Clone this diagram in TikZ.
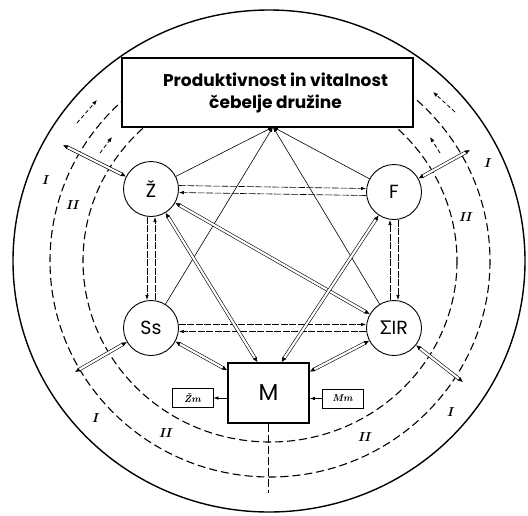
\documentclass[tikz,border=0pt]{standalone}
\usepackage{fontspec}
\newfontfamily\pop{Poppins}
\newfontfamily\grk{Lato}
\usetikzlibrary{arrows.meta,calc}
\begin{document}
\begin{tikzpicture}[x=1pt,y=-1pt,
  ring/.style={line width=1.1pt, dash pattern=on 8pt off 4pt},
  nd/.style={circle, draw, line width=0.9pt, minimum size=55pt, inner sep=0pt, fill=white, font=\pop\fontsize{19}{19}\selectfont},
  pair/.style={line width=0.6pt, dash pattern=on 7pt off 1.5pt, -{Latex[length=5pt,width=3.5pt]}},
  dbl/.style={double distance=2.2pt, line width=0.6pt, {Latex[length=5pt,width=4.5pt]}-{Latex[length=5pt,width=4.5pt]}},
  thinl/.style={line width=0.6pt, -{Latex[length=5pt,width=3.5pt]}},
  flow/.style={line width=0.8pt, dash pattern=on 4pt off 2.5pt, -{Latex[length=5pt,width=4pt]}},
  lane/.style={font=\fontsize{13}{13}\selectfont\bfseries\itshape},
  sbox/.style={draw, line width=0.8pt, minimum width=41pt, minimum height=19pt, inner sep=1pt, font=\fontsize{10}{10}\selectfont\bfseries\itshape}
]
\useasboundingbox (0,0) rectangle (528,515);
% rings
\begin{scope}
\clip (-10,-10) -- (122,-10) -- (122,127) -- (413,127) -- (413,-10) -- (540,-10) -- (540,530) -- (-10,530) -- cycle;
\draw[ring] (270,261) ellipse [x radius=220, y radius=216];
\draw[ring] (270,261) ellipse [x radius=187, y radius=181];
\end{scope}
\draw[line width=1.4pt] (269,261) ellipse [x radius=256, y radius=251];
% nodes
\node[draw, line width=1.4pt, fill=white, minimum width=291pt, minimum height=69pt, align=center,
  font=\pop\bfseries\fontsize{17}{22}\selectfont] (prod) at (267.5,92.5) {\hspace*{16pt}Produktivnost in vitalnost\\\hspace*{16pt}čebelje družine};
\node[nd] (Z) at (151,189) {Ž};
\node[nd] (F) at (394,192) {F};
\node[nd] (Ss) at (151,328) {Ss};
\node[nd] (SIR) at (394,328) {{\grk Σ}IR};
\node[draw, line width=1.6pt, minimum width=81pt, minimum height=60pt, fill=white, font=\pop\fontsize{23}{23}\selectfont] (M) at (268.5,393) {M};
\node[sbox] (zm) at (192.5,398) {Žm};
\node[sbox] (mm) at (342.5,398.5) {Mm};
% coordinates
\coordinate (apex) at (273,127);
\coordinate (zo) at (63,145);
\coordinate (fo) at (470,150);
\coordinate (so) at (75,372);
\coordinate (ro) at (463,382);
\coordinate (mb) at (268.5,493);
% pairs
\draw[pair] ([yshift=3.5pt]Z.east) -- ([yshift=3.5pt]F.west);
\draw[pair] ([yshift=-3.5pt]F.west) -- ([yshift=-3.5pt]Z.east);
\draw[pair] ([yshift=3.5pt]Ss.east) -- ([yshift=3.5pt]SIR.west);
\draw[pair] ([yshift=-3.5pt]SIR.west) -- ([yshift=-3.5pt]Ss.east);
\draw[pair] ([xshift=-4pt]Z.south) -- ([xshift=-4pt]Ss.north);
\draw[pair] ([xshift=4pt]Ss.north) -- ([xshift=4pt]Z.south);
\draw[pair] ([xshift=-4pt]SIR.north) -- ([xshift=-4pt]F.south);
\draw[pair] ([xshift=4pt]F.south) -- ([xshift=4pt]SIR.north);
% apex lines
\draw[thinl] (Z) -- (apex);
\draw[thinl] (F) -- (apex);
\draw[thinl] (Ss) -- (apex);
\draw[thinl] (SIR) -- (apex);
% double lines
\draw[dbl] (Z) -- (SIR);
\draw[dbl] (Z) -- ([xshift=-11pt]M.north);
\draw[dbl] (F) -- ([xshift=13pt]M.north);
\draw[dbl] (Ss) -- (M);
\draw[dbl] (SIR) -- (M);
% radial
\draw[dbl] (Z) -- (zo);
\draw[dbl] (F) -- (fo);
\draw[dbl] (Ss) -- (so);
\draw[dbl] (SIR) -- (ro);
\draw[line width=0.8pt, dash pattern=on 8pt off 3pt] (M) -- (mb);
% small boxes
\draw[thinl] (zm.east -| M.west) -- (zm.east);
\draw[thinl] (mm.west) -- (mm.west -| M.east);
% flow arrows
\coordinate (a1s) at (77,123); \coordinate (a1e) at (97,100);
\coordinate (a2s) at (100,153); \coordinate (a2e) at (112,137);
\coordinate (a3s) at (455,112); \coordinate (a3e) at (433,92);
\coordinate (a4s) at (440,153); \coordinate (a4e) at (430,137);
\draw[flow] (a1s) -- (a1e);
\draw[flow] (a2s) -- (a2e);
\draw[flow] (a3s) -- (a3e);
\draw[flow] (a4s) -- (a4e);
% lane labels
\node[lane] (l1) at (45,180) {I};
\node[lane] (l2) at (72,205) {II};
\node[lane] (l3) at (487,163) {I};
\node[lane] (l4) at (465,217) {II};
\node[lane] (l5) at (95,418) {I};
\node[lane] (l6) at (165,433) {II};
\node[lane] (l7) at (450,412) {I};
\node[lane] (l8) at (364,437) {II};
\end{tikzpicture}
\end{document}
